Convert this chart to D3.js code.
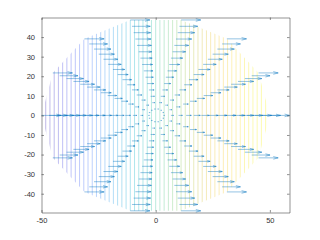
<!DOCTYPE html>
<html><head><meta charset="utf-8">
<script src="https://cdn.jsdelivr.net/npm/d3@7"></script>
<style>html,body{margin:0;padding:0;background:#fff;} svg{display:block;}</style>
</head><body>
<svg id="c" width="320" height="240"></svg>
<script>
// ---- data ----
const spokeAngles = [0, 25.71, 51.43, 77.14, 102.86, 128.57, 154.29, 180, 205.71, 231.43, 257.14, 282.86, 308.57, 334.29];
const radii = [0, 3.33, 6.67, 10, 13.33, 16.67, 20, 23.33, 26.67, 30, 33.33, 36.67, 40, 43.33, 46.67, 50];
const arrowLengths = [0, 0.57, 1.15, 1.72, 2.29, 2.87, 3.44, 4.01, 4.59, 5.16, 5.73, 6.31, 6.88, 7.45, 8.03, 8.6];
const contourLevels = [-48.15, -46.30, -44.44, -42.59, -40.74, -38.89, -37.04, -35.19, -33.33, -31.48, -29.63, -27.78, -25.93, -24.07, -22.22, -20.37, -18.52, -16.67, -14.81, -12.96, -11.11, -9.26, -7.41, -5.56, -3.70, -1.85, 0, 1.85, 3.70, 5.56, 7.41, 9.26, 11.11, 12.96, 14.81, 16.67, 18.52, 20.37, 22.22, 24.07, 25.93, 27.78, 29.63, 31.48, 33.33, 35.19, 37.04, 38.89, 40.74, 42.59, 44.44, 46.30, 48.15];
const xTicks = [-50, 0, 50];
const yTicks = [-40, -30, -20, -10, 0, 10, 20, 30, 40];
const xDomain = [-50, 58.6];
const yDomain = [-49.6, 50];
const zRange = [-50, 50];

// parula colormap stops
const parulaStops = ["#3e26a8", "#4746eb", "#3e6ffe", "#2797eb", "#08b5d0", "#31c5a0", "#80cc59", "#dcbd29", "#fcc830", "#f5e824", "#f9fb14"];

const svg = d3.select("#c");
const L = 41.5, R = 289.5, T = 17.5, B = 212.5;
const x = d3.scaleLinear().domain(xDomain).range([L, R]);
const y = d3.scaleLinear().domain(yDomain).range([B, T]);
const parula = d3.scaleSequential(d3.interpolateRgbBasis(parulaStops)).domain(zRange);

// clip polygon = outer ring of polar grid
const rOuter = radii[radii.length - 1];
const poly = spokeAngles.map(a => [x(rOuter * Math.cos(a * Math.PI / 180)), y(rOuter * Math.sin(a * Math.PI / 180))]);
svg.append("defs").append("clipPath").attr("id", "disk")
  .append("path").attr("d", d3.line()(poly) + "Z");

// contour lines (z = x)
svg.append("g").attr("clip-path", "url(#disk)")
  .selectAll("line").data(contourLevels).join("line")
  .attr("x1", d => x(d)).attr("x2", d => x(d))
  .attr("y1", y(rOuter)).attr("y2", y(-rOuter))
  .attr("stroke", d => parula(d)).attr("stroke-width", 0.4).attr("stroke-opacity", 0.85).attr("fill", "none");

// quiver arrows
const pts = [];
spokeAngles.forEach(a => {
  radii.forEach((r, i) => {
    if (arrowLengths[i] > 0) {
      pts.push({x0: r * Math.cos(a * Math.PI / 180), y0: r * Math.sin(a * Math.PI / 180), u: arrowLengths[i]});
    }
  });
});
const gq = svg.append("g").attr("stroke", "#0072BD").attr("stroke-width", 0.5).attr("stroke-opacity", 0.85).attr("fill", "none");
gq.selectAll("path").data(pts).join("path")
  .attr("d", d => {
    const tx = d.x0 + d.u, hb = d.x0 + d.u * 0.75, hw = d.u * 0.08;
    return `M${x(d.x0)},${y(d.y0)}L${x(tx)},${y(d.y0)}` +
           `M${x(hb)},${y(d.y0 + hw)}L${x(tx)},${y(d.y0)}L${x(hb)},${y(d.y0 - hw)}`;
  });

// axes
const axCol = "#262626";
function style(g) {
  g.selectAll("path").attr("stroke", axCol).attr("stroke-width", 0.5);
  g.selectAll("line").attr("stroke", axCol).attr("stroke-width", 0.5);
  g.selectAll("text").attr("fill", "#333").attr("font-family", "'Liberation Sans', Arial, sans-serif").attr("font-size", 7.5);
}
svg.append("g").attr("transform", `translate(0,${B})`)
  .call(d3.axisBottom(x).tickValues(xTicks).tickSizeInner(-2.5).tickSizeOuter(0).tickPadding(5.5).tickFormat(d3.format("d")))
  .call(style);
svg.append("g").attr("transform", `translate(0,${T})`)
  .call(d3.axisTop(x).tickValues(xTicks).tickSizeInner(-2.5).tickSizeOuter(0).tickFormat(""))
  .call(style);
svg.append("g").attr("transform", `translate(${L},0)`)
  .call(d3.axisLeft(y).tickValues(yTicks).tickSizeInner(-2.5).tickSizeOuter(0).tickPadding(6.5).tickFormat(d3.format("d")))
  .call(style);
svg.append("g").attr("transform", `translate(${R},0)`)
  .call(d3.axisRight(y).tickValues(yTicks).tickSizeInner(-2.5).tickSizeOuter(0).tickFormat(""))
  .call(style);
svg.selectAll("text").text(function(){ return d3.select(this).text().replace("\u2212", "-"); });
</script>
</body></html>
